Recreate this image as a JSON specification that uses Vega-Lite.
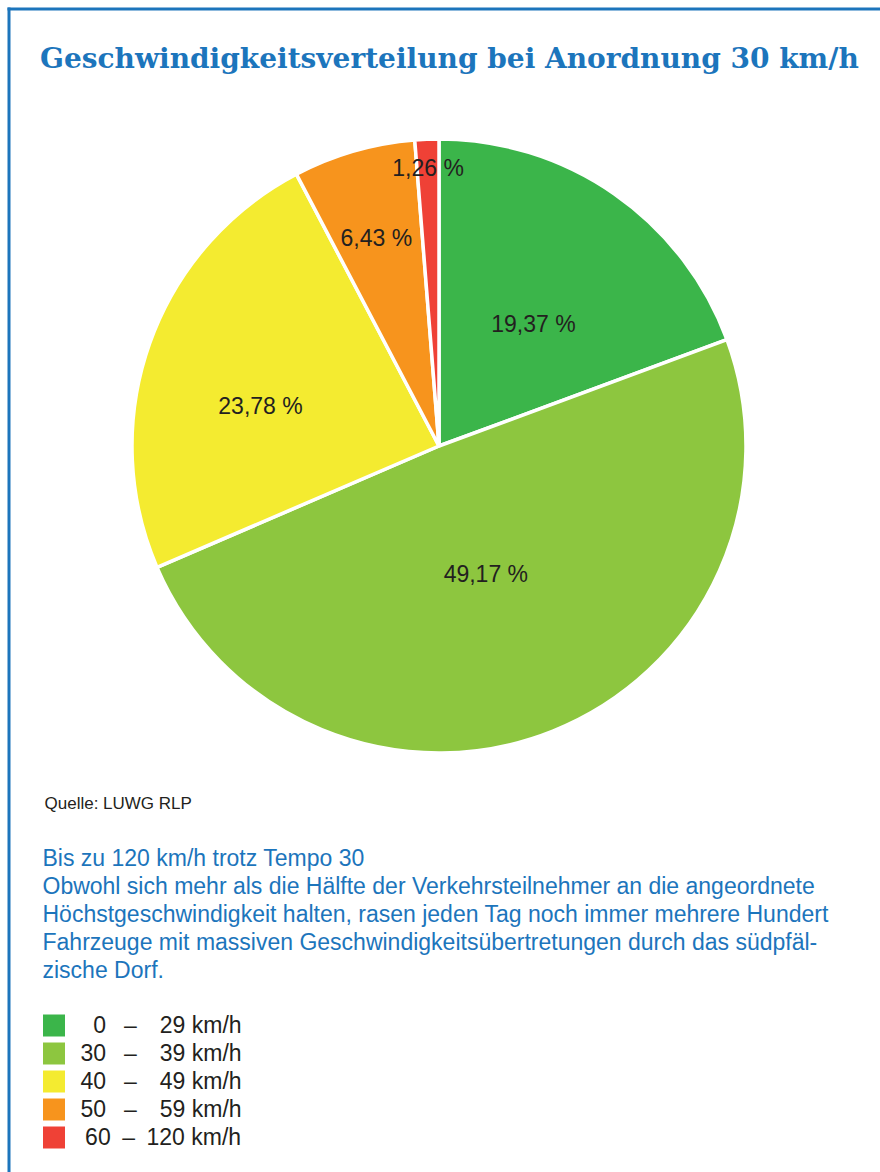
{
  "$schema": "https://vega.github.io/schema/vega-lite/v6.json",
  "autosize": {"type": "none"},
  "padding": {"left": 0, "top": 139, "right": 2, "bottom": 419},
  "width": 878,
  "height": 614,
  "background": "white",
  "title": {
    "text": "Geschwindigkeitsverteilung bei Anordnung 30 km/h",
    "anchor": "start",
    "frame": "group",
    "dx": 40,
    "dy": 87,
    "offset": 0,
    "baseline": "alphabetic",
    "font": "DejaVu Serif",
    "fontSize": 28,
    "fontWeight": "bold",
    "color": "#1c75bc"
  },
  "data": {
    "values": [
      {"Bereich": "0 – 29 km/h", "Anteil": 19.37, "Label": "19,37 %"},
      {"Bereich": "30 – 39 km/h", "Anteil": 49.17, "Label": "49,17 %"},
      {"Bereich": "40 – 49 km/h", "Anteil": 23.78, "Label": "23,78 %"},
      {"Bereich": "50 – 59 km/h", "Anteil": 6.43, "Label": "6,43 %"},
      {"Bereich": "60 – 120 km/h", "Anteil": 1.26, "Label": "1,26 %"}
    ]
  },
  "encoding": {
    "theta": {"field": "Anteil", "type": "quantitative", "stack": true},
    "order": {"field": "Bereich", "type": "nominal", "sort": "ascending"}
  },
  "layer": [
    {
      "mark": {"type": "arc", "stroke": "white", "strokeWidth": 3.5},
      "encoding": {
        "color": {
          "field": "Bereich",
          "type": "nominal",
          "scale": {
            "domain": ["0 – 29 km/h", "30 – 39 km/h", "40 – 49 km/h", "50 – 59 km/h", "60 – 120 km/h"],
            "range": ["#3bb54a", "#8dc63f", "#f4eb30", "#f7941d", "#ef4136"]
          },
          "legend": {
            "orient": "none",
            "legendX": 42.5,
            "legendY": 709,
            "direction": "vertical",
            "padding": 0,
            "title": [
              "Bis zu 120 km/h trotz Tempo 30",
              "Obwohl sich mehr als die Hälfte der Verkehrsteilnehmer an die angeordnete",
              "Höchstgeschwindigkeit halten, rasen jeden Tag noch immer mehrere Hundert",
              "Fahrzeuge mit massiven Geschwindigkeitsübertretungen durch das südpfäl-",
              "zische Dorf."
            ],
            "titleFont": "Liberation Sans",
            "titleFontSize": 23,
            "titleFontWeight": "normal",
            "titleColor": "#1c75bc",
            "titleLineHeight": 28,
            "titleLimit": 1000,
            "titleAnchor": "start",
            "titleBaseline": "top",
            "titlePadding": 31,
            "labelFont": "Liberation Sans",
            "labelFontSize": 23,
            "labelColor": "#231f20",
            "labelOffset": 15,
            "labelLimit": 400,
            "labelBaseline": "middle",
            "labelExpr": "datum.label == '0 – 29 km/h' ? '\u200B\u20070\u2002 –\u2006 \u200729 km/h' : datum.label == '60 – 120 km/h' ? '\u200B\u200960\u2002–\u2002120 km/h' : replace(datum.label, ' – ', '\u2002 –\u2006 \u2007')",
            "symbolType": "square",
            "symbolSize": 484,
            "symbolStrokeWidth": 0,
            "symbolOpacity": 1,
            "rowPadding": 4
          }
        }
      }
    },
    {
      "mark": {"type": "text", "radius": 153, "dx": 7, "dy": 5, "font": "Liberation Sans", "fontSize": 23, "fill": "#231f20"},
      "encoding": {"text": {"condition": {"test": "datum.Bereich == '0 – 29 km/h'", "field": "Label"}, "value": ""}}
    },
    {
      "mark": {"type": "text", "radius": 137, "dx": -4, "dy": 2, "font": "Liberation Sans", "fontSize": 23, "fill": "#231f20"},
      "encoding": {"text": {"condition": {"test": "datum.Bereich == '30 – 39 km/h'", "field": "Label"}, "value": ""}}
    },
    {
      "mark": {"type": "text", "radius": 183, "dx": -6, "dy": 22, "font": "Liberation Sans", "fontSize": 23, "fill": "#231f20"},
      "encoding": {"text": {"condition": {"test": "datum.Bereich == '40 – 49 km/h'", "field": "Label"}, "value": ""}}
    },
    {
      "mark": {"type": "text", "radius": 215, "dx": -3, "dy": 0, "font": "Liberation Sans", "fontSize": 23, "fill": "#231f20"},
      "encoding": {"text": {"condition": {"test": "datum.Bereich == '50 – 59 km/h'", "field": "Label"}, "value": ""}}
    },
    {
      "mark": {"type": "text", "radius": 277, "font": "Liberation Sans", "fontSize": 23, "fill": "#231f20"},
      "encoding": {"text": {"condition": {"test": "datum.Bereich == '60 – 120 km/h'", "field": "Label"}, "value": ""}}
    },
    {
      "data": {"values": [{"Rahmen": 1}]},
      "mark": {"type": "point", "opacity": 0},
      "encoding": {
        "theta": null,
        "order": null,
        "x": {
          "datum": 0,
          "type": "quantitative",
          "scale": {"domain": [0, 1], "range": [7, 880]},
          "axis": {"orient": "top", "offset": 130.5, "domain": true, "domainColor": "#1c75bc", "domainWidth": 3, "ticks": false, "labels": false, "grid": false, "title": null}
        },
        "y": {
          "datum": 0,
          "type": "quantitative",
          "scale": {"domain": [0, 1], "range": [1033, -132]},
          "axis": {
            "orient": "left", "offset": -8.5, "domain": true, "domainColor": "#1c75bc", "domainWidth": 3,
            "ticks": false, "labels": false, "grid": false,
            "title": "Quelle: LUWG RLP",
            "titleAngle": 0, "titleAlign": "left", "titleBaseline": "middle",
            "titleX": 35.5, "titleY": 664,
            "titleFont": "Liberation Sans", "titleFontSize": 17, "titleFontWeight": "normal", "titleColor": "#231f20"
          }
        }
      }
    }
  ],
  "config": {"view": {"stroke": null}}
}
